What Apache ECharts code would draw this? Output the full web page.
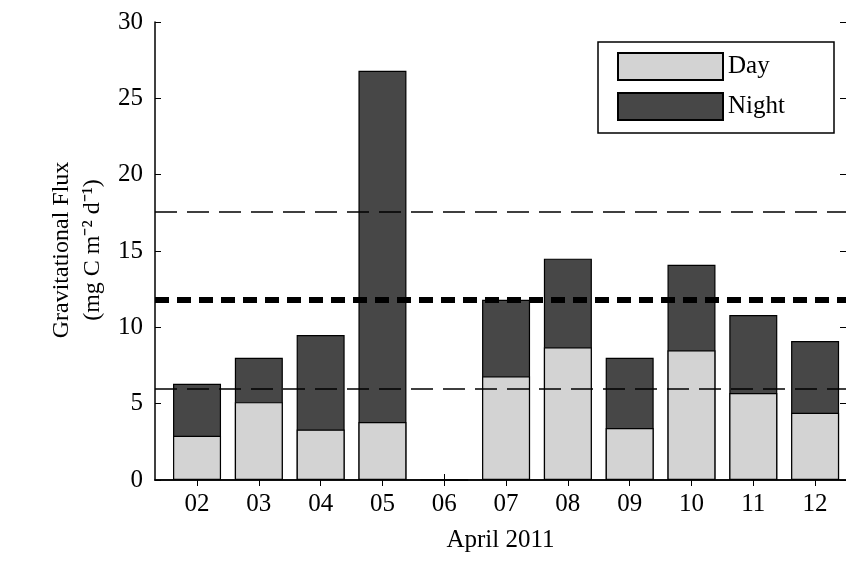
<!DOCTYPE html>
<html><head><meta charset="utf-8">
<script src="https://cdn.jsdelivr.net/npm/echarts@6/dist/echarts.min.js"></script>
<style>html,body{margin:0;background:#fff}#main{width:846px;height:576px}</style>
</head><body><div id="main"></div>
<script>
var days = [2, 3, 4, 5, 6, 7, 8, 9, 10, 11, 12];
var dayFlux = [2.9, 5.1, 3.3, 3.8, 0, 6.8, 8.7, 3.4, 8.5, 5.7, 4.4];
var totalFlux = [6.3, 8.0, 9.5, 26.8, 0, 11.8, 14.5, 8.0, 14.1, 10.8, 9.1];
var refLines = [17.6, 11.8, 6.0];
var font = 'Liberation Serif';

var chart = echarts.init(document.getElementById('main'));
function pairs(v) { return days.map(function (d, i) { return [d, v[i]]; }); }
function lbl(v) { return v < 10 ? '0' + v : '' + v; }
chart.setOption({
  animation: false,
  textStyle: { fontFamily: font },
  grid: { left: 155, right: -2, top: 22, bottom: 96 },
  xAxis: [{
    type: 'value', min: 1.32, max: 12.5,
    axisLine: { lineStyle: { color: '#000', width: 1.5 } },
    axisTick: { inside: true, length: 6, customValues: days, lineStyle: { color: '#000' } },
    axisLabel: { color: '#000', fontSize: 25, margin: 12, fontFamily: font, customValues: days, formatter: lbl },
    splitLine: { show: false },
    name: 'April 2011', nameLocation: 'middle', nameGap: 48,
    nameTextStyle: { color: '#000', fontSize: 25, fontFamily: font }
  }, {
    type: 'value', position: 'top', min: 1.32, max: 12.5,
    axisLine: { show: true, lineStyle: { color: '#000', width: 1.5 } },
    axisTick: { inside: true, length: 6, customValues: days, lineStyle: { color: '#000' } },
    axisLabel: { show: false }, splitLine: { show: false }
  }],
  yAxis: [{
    type: 'value', min: 0, max: 30, interval: 5,
    axisLine: { show: true, lineStyle: { color: '#000', width: 1.5 } },
    axisTick: { inside: true, length: 6, lineStyle: { color: '#000' } },
    axisLabel: { color: '#000', fontSize: 25, margin: 12, fontFamily: font },
    splitLine: { show: false }
  }, {
    type: 'value', min: 0, max: 30, interval: 5, position: 'right',
    axisLine: { show: false },
    axisTick: { show: true, inside: true, length: 6, lineStyle: { color: '#000' } },
    axisLabel: { show: false }, splitLine: { show: false }
  }],
  legend: {
    orient: 'vertical', left: 612, top: 47, itemWidth: 105, itemHeight: 27, itemGap: 11,
    icon: 'rect',
    textStyle: { fontSize: 25, color: '#000', fontFamily: font },
    data: ['Day', 'Night']
  },
  graphic: [
    { type: 'rect', shape: { x: 598, y: 42, width: 236, height: 91 },
      style: { fill: '#fff', stroke: '#000', lineWidth: 1.5 }, z: 0 },
    { type: 'text', x: 62, y: 250, rotation: Math.PI / 2,
      style: { text: 'Gravitational Flux', font: '24px ' + font, fill: '#000', align: 'center', verticalAlign: 'middle' } },
    { type: 'text', x: 93, y: 250, rotation: Math.PI / 2,
      style: { text: '(mg C m\u207B\u00B2 d\u207B\u00B9)', font: '24px ' + font, fill: '#000', align: 'center', verticalAlign: 'middle' } }
  ],
  series: [{
    name: 'Night', type: 'bar', barWidth: 48, data: pairs(totalFlux), z: 2,
    itemStyle: { color: '#474747', borderColor: '#000', borderWidth: 1.2 }
  }, {
    name: 'Day', type: 'bar', barWidth: 48, barGap: '-100%', data: pairs(dayFlux), z: 3,
    itemStyle: { color: '#d3d3d3', borderColor: '#000', borderWidth: 1.2 },
    markLine: {
      silent: true, symbol: 'none', label: { show: false }, z: 10,
      data: refLines.map(function (v, i) {
        return { yAxis: v, lineStyle: { color: '#000', type: i === 1 ? [14, 8] : [22, 10], width: i === 1 ? 6 : 1.5 } };
      })
    }
  }]
});
</script></body></html>
